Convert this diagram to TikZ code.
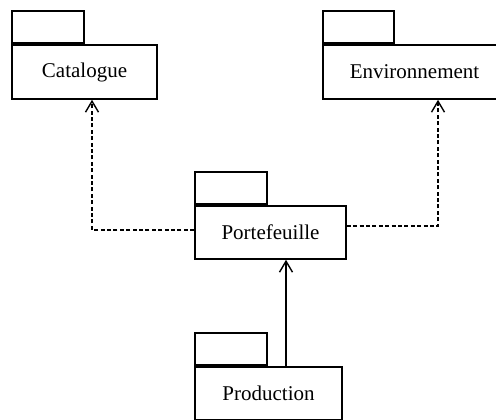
\documentclass[tikz,border=0pt]{standalone}
\usepackage{fontspec}
\setmainfont{Liberation Serif}
\usetikzlibrary{fit,arrows.meta}
\begin{document}
\begin{tikzpicture}[x=0.5pt,y=-0.5pt,
  pkgtab/.style={draw, line width=0.8pt, inner sep=0pt},
  pkgbody/.style={draw, line width=0.8pt, inner sep=0pt, label={[font=\fontsize{10.5}{12}\selectfont]center:#1}},
  dep/.style={line width=0.7pt, dash pattern=on 2pt off 1.2pt, -{Straight Barb[length=5.5pt,width=6.5pt]}},
  imp/.style={line width=0.7pt, -{Straight Barb[length=5.5pt,width=6.5pt]}}]
\useasboundingbox (0,0) rectangle (496,419);
\clip (0,0) rectangle (496,419);
\node[pkgtab, fit={(12,11) (84,43)}] (tab0) {};
\node[pkgbody=Catalogue, fit={(12,45) (157,99)}] (catalogue) {};
\node[pkgtab, fit={(323,11) (394,43)}] (tab1) {};
\node[pkgbody=Environnement, fit={(323,45) (506,99)}] (environnement) {};
\node[pkgtab, fit={(195,172) (267,204)}] (tab2) {};
\node[pkgbody=Portefeuille, fit={(195,206) (346,259)}] (portefeuille) {};
\node[pkgtab, fit={(195,333) (267,365)}] (tab3) {};
\node[pkgbody=Production, fit={(195,367) (342,420)}] (production) {};
\coordinate (lbend) at (92,230);
\coordinate (rbend) at (438,226);
\coordinate (upx) at (286,0);
\draw[dep](portefeuille.west |- lbend) -- (lbend) -- (catalogue.south -| lbend);
\draw[dep](portefeuille.east |- rbend) -- (rbend) -- (environnement.south -| rbend);
\draw[imp](production.north -| upx) -- (portefeuille.south -| upx);
\end{tikzpicture}
\end{document}
